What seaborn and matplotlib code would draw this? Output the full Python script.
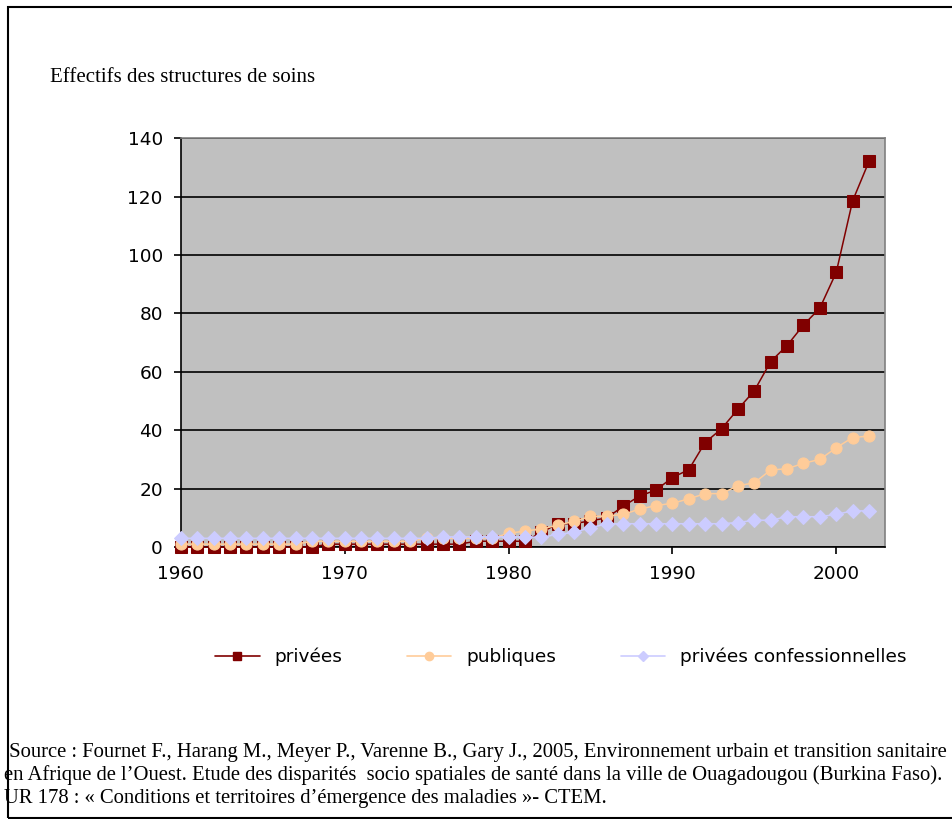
import matplotlib
matplotlib.use("Agg")
import matplotlib.pyplot as plt
import seaborn as sns
import pandas as pd
from matplotlib.lines import Line2D
from matplotlib.patches import Rectangle

annees = list(range(1960, 2003))

privees = [0, 0, 0, 0, 0, 0, 0, 0, 0, 1, 1, 1, 1, 1, 1, 1, 1, 1, 2, 2,
           2, 2, 5, 8, 8, 9, 10, 14, 17.5, 19.5, 23.8, 26.5, 35.8, 40.5, 47.2, 53.5,
           63.5, 69, 76, 81.8, 94, 118.5, 132]
publiques = [1, 1, 1, 1, 1, 1, 1, 1, 2, 2, 2, 2, 2, 2, 2, 3, 3, 3, 3, 3,
             4.7, 5.5, 6.2, 7.5, 8.8, 10.5, 10.6, 11.2, 13, 14.2, 15, 16.5, 18.3, 18.3, 21, 22,
             26.4, 26.8, 28.7, 30, 34, 37.5, 38]
confessionnelles = [3, 3, 3, 3, 3, 3, 3, 3, 3, 3, 3, 3, 3, 3, 3, 3, 3.5, 3.5, 3.5, 3.5,
                    3.5, 3.5, 3.3, 4.4, 5, 6.7, 7.9, 8, 8, 8, 8, 8, 8, 8, 8.4, 9.2,
                    9.2, 10.4, 10.4, 10.4, 11.2, 12.4, 12.4]

series = {
    "privées": (privees, "#800000", "s"),
    "publiques": (publiques, "#FFCC99", "o"),
    "privées confessionnelles": (confessionnelles, "#CCCCFF", "D"),
}

sns.set_theme(style="white")
plt.rcParams["font.family"] = ["DejaVu Sans"]
plt.rcParams["text.color"] = "black"

fig = plt.figure(figsize=(9.52, 8.19), dpi=100)
ax = fig.add_axes([0.190, 0.332, 0.740, 0.4994])
ax.set_facecolor("#C0C0C0")

for nom, (vals, couleur, mk) in series.items():
    df = pd.DataFrame({"annee": annees, "valeur": vals})
    sns.lineplot(data=df, x="annee", y="valeur", ax=ax, color=couleur, marker=mk,
                 markersize=8 if mk != "D" else 7.5, markeredgecolor=couleur,
                 linewidth=1.1, clip_on=False, zorder=3)

ax.set_xlim(1960, 2003)
ax.set_ylim(0, 140)
ax.set_xticks([1960, 1970, 1980, 1990, 2000])
ax.set_yticks(range(0, 141, 20))
ax.yaxis.grid(True, color="black", linewidth=1.2)
ax.set_axisbelow(True)
ax.set_xlabel("")
ax.set_ylabel("")
ax.tick_params(axis="both", direction="out", length=5, width=1.2, color="black",
               labelsize=13.3, pad=8, left=True, bottom=True, labelcolor="black")
for s in ["left", "bottom"]:
    ax.spines[s].set_color("black")
    ax.spines[s].set_linewidth(1.2)
for s in ["top", "right"]:
    ax.spines[s].set_color("#808080")
    ax.spines[s].set_linewidth(1.2)

handles = [Line2D([], [], color=c, marker=m, markersize=6 if m != "D" else 5.5,
                  markeredgecolor=c, linewidth=1.2)
           for (_, c, m) in series.values()]
fig.legend(handles, list(series.keys()), loc="center", bbox_to_anchor=(0.589, 0.198),
           ncol=3, frameon=False, fontsize=13.3, handlelength=2.4, columnspacing=3.5,
           handletextpad=0.8)

fig.text(50 / 952, 1 - 77 / 819, "Effectifs des structures de soins",
         family="Liberation Serif", fontsize=15, va="center", ha="left", color="black")

source = [
    " Source : Fournet F., Harang M., Meyer P., Varenne B., Gary J., 2005, Environnement urbain et transition sanitaire",
    "en Afrique de l\u2019Ouest. Etude des disparités  socio spatiales de santé dans la ville de Ouagadougou (Burkina Faso).",
    "UR 178 : « Conditions et territoires d\u2019émergence des maladies »- CTEM.",
]
for i, ligne in enumerate(source):
    fig.text(4 / 952, 1 - (752 + 23.5 * i) / 819, ligne, family="Liberation Serif",
             fontsize=14.9, va="center", ha="left", color="black")

fig.patches.append(Rectangle((8 / 952, 1 / 819), 1.1, 811 / 819, transform=fig.transFigure,
                             fill=False, edgecolor="black", linewidth=1.5))

fig.savefig("out.png", dpi=100)
